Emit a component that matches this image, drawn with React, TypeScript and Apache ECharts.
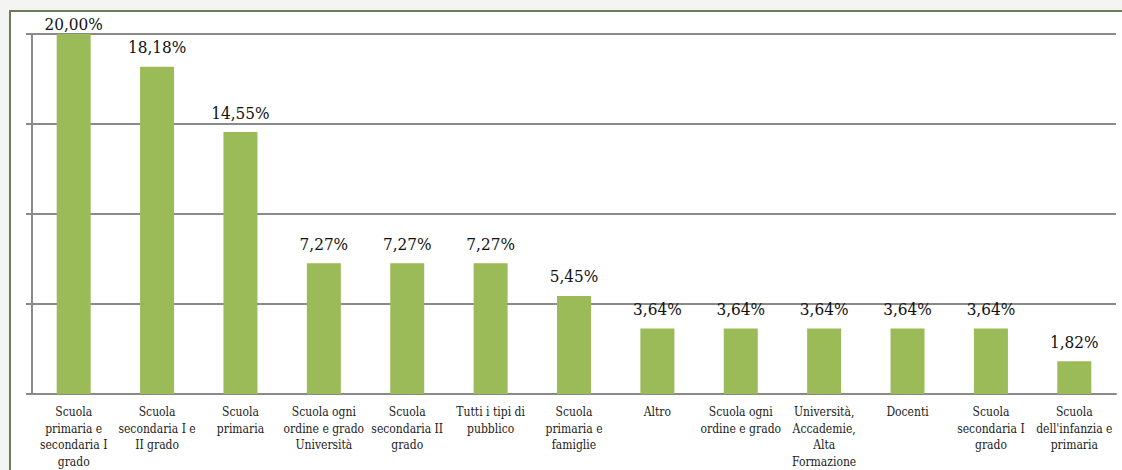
import React, { useEffect, useRef } from "react";
import * as echarts from "echarts";

const categories: string[] = [
  "Scuola\nprimaria e\nsecondaria I\ngrado",
  "Scuola\nsecondaria I e\nII grado",
  "Scuola\nprimaria",
  "Scuola ogni\nordine e grado\nUniversità",
  "Scuola\nsecondaria II\ngrado",
  "Tutti i tipi di\npubblico",
  "Scuola\nprimaria e\nfamiglie",
  "Altro",
  "Scuola ogni\nordine e grado",
  "Università,\nAccademie,\nAlta\nFormazione",
  "Docenti",
  "Scuola\nsecondaria I\ngrado",
  "Scuola\ndell'infanzia e\nprimaria",
];

const values: number[] = [20.0, 18.18, 14.55, 7.27, 7.27, 7.27, 5.45, 3.64, 3.64, 3.64, 3.64, 3.64, 1.82];

const FONT = "DejaVu Serif Condensed";

export default function App() {
  const ref = useRef<HTMLDivElement>(null);
  useEffect(() => {
    if (!ref.current) return;
    const chart = echarts.init(ref.current, undefined, { renderer: "svg" });
    const maxV = Math.max(...values);
    chart.setOption({
      animation: false,
      textStyle: { fontFamily: FONT },
      grid: { left: 32, top: 34, right: 6, bottom: 73, containLabel: false },
      xAxis: {
        type: "category",
        data: categories,
        axisLine: { show: true, lineStyle: { color: "#8a8a8a", width: 2 } },
        axisTick: { show: false },
        axisLabel: {
          interval: 0,
          margin: 10,
          color: "#222",
          fontFamily: FONT,
          fontSize: 12,
          lineHeight: 16.5,
        },
      },
      yAxis: {
        type: "value",
        min: 0,
        max: 20,
        interval: 5,
        axisLine: { show: true, lineStyle: { color: "#8a8a8a", width: 2 } },
        axisTick: { show: true, length: 6, lineStyle: { color: "#8a8a8a", width: 2 } },
        axisLabel: { show: false },
        splitLine: { show: true, lineStyle: { color: "#8a8a8a", width: 2 } },
      },
      series: [
        {
          type: "bar",
          data: values.map((v) => (v === maxV ? { value: v, label: { distance: 2 } } : v)),
          barWidth: 34,
          itemStyle: { color: "#9bbb59" },
          label: {
            show: true,
            position: "top",
            distance: 11,
            color: "#111",
            fontFamily: FONT,
            fontSize: 17,
            formatter: (p: any) => Number(p.value).toFixed(2).replace(".", ",") + "%",
          },
        },
      ],
    });
    return () => chart.dispose();
  }, []);
  return (
    <div style={{ position: "fixed", left: 0, top: 0, width: 1122, height: 470, background: "#f4f4f2", overflow: "hidden" }}>
      <div
        style={{
          position: "absolute",
          left: 9,
          top: 10,
          width: 1130,
          height: 480,
          background: "#ffffff",
          border: "2px solid #6b7d5a",
        }}
      />
      <div ref={ref} style={{ position: "absolute", left: 0, top: 0, width: 1122, height: 470 }} />
    </div>
  );
}
